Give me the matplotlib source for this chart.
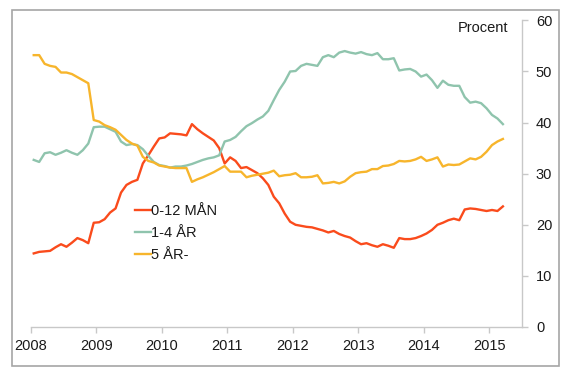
import numpy as np
import matplotlib
matplotlib.use("Agg")
import matplotlib.pyplot as plt
from matplotlib.patches import Rectangle

# Monthly shares, Jan 2008 - Mar 2015 (procent)
kort = [14.4, 14.7, 14.8, 14.9, 15.6, 16.2, 15.7, 16.5, 17.4, 17.0, 16.4, 20.4,
        20.5, 21.1, 22.4, 23.2, 26.3, 27.8, 28.4, 28.8, 32.0, 33.6, 35.3, 36.9,
        37.1, 37.9, 37.8, 37.7, 37.5, 39.7, 38.7, 37.9, 37.2, 36.5, 35.0, 32.0,
        33.2, 32.5, 31.1, 31.3, 30.7, 30.1, 29.1, 27.8, 25.5, 24.2, 22.2, 20.6,
        20.0, 19.8, 19.6, 19.5, 19.2, 18.9, 18.5, 18.8, 18.2, 17.8, 17.5, 16.8,
        16.2, 16.4, 16.0, 15.7, 16.2, 15.9, 15.5, 17.4, 17.2, 17.2, 17.4, 17.8,
        18.3, 19.0, 20.0, 20.4, 20.9, 21.2, 20.9, 23.0, 23.2, 23.1, 22.9, 22.7,
        22.9, 22.7, 23.6]
mellan = [32.7, 32.3, 34.0, 34.2, 33.7, 34.1, 34.6, 34.1, 33.7, 34.6, 35.9, 39.1,
          39.2, 39.2, 38.7, 38.2, 36.3, 35.6, 35.8, 35.6, 34.8, 33.5, 32.3, 31.7,
          31.5, 31.2, 31.4, 31.4, 31.6, 31.9, 32.3, 32.7, 33.0, 33.2, 33.6, 36.3,
          36.6, 37.2, 38.3, 39.3, 39.9, 40.6, 41.2, 42.3, 44.4, 46.4, 48.0, 50.0,
          50.1, 51.1, 51.5, 51.3, 51.1, 52.8, 53.2, 52.8, 53.7, 54.0, 53.7, 53.5,
          53.8, 53.4, 53.2, 53.6, 52.4, 52.4, 52.6, 50.2, 50.4, 50.5, 50.0, 49.0,
          49.4, 48.3, 46.8, 48.2, 47.4, 47.2, 47.2, 45.0, 43.9, 44.1, 43.8, 42.8,
          41.5, 40.8, 39.7]
lang = [53.2, 53.2, 51.5, 51.1, 50.9, 49.8, 49.8, 49.5, 48.9, 48.3, 47.7, 40.5,
        40.2, 39.5, 39.1, 38.6, 37.6, 36.6, 35.9, 35.5, 33.3, 32.5, 32.2, 31.6,
        31.4, 31.2, 31.1, 31.1, 31.1, 28.4, 28.9, 29.3, 29.8, 30.3, 30.9, 31.5,
        30.4, 30.4, 30.4, 29.3, 29.6, 29.8, 30.0, 30.2, 30.6, 29.5, 29.7, 29.8,
        30.1, 29.3, 29.3, 29.4, 29.7, 28.1, 28.2, 28.4, 28.1, 28.5, 29.4, 30.1,
        30.3, 30.4, 30.9, 30.9, 31.5, 31.6, 31.9, 32.5, 32.4, 32.5, 32.8, 33.3,
        32.5, 32.8, 33.2, 31.4, 31.8, 31.7, 31.8, 32.4, 33.0, 32.8, 33.3, 34.3,
        35.6, 36.3, 36.8]

labels = ["0-12 MÅN", "1-4 ÅR", "5 ÅR-"]
colors = ["#fa4b1c", "#8fc4ad", "#f7b52c"]
years = list(range(2008, 2016))
yticks = list(range(0, 70, 10))

plt.rcParams["font.family"] = ["Liberation Sans", "DejaVu Sans"]

W, H = 572, 381
fig = plt.figure(figsize=(W / 100, H / 100), dpi=100)
ax = fig.add_axes([31 / W, 1 - 327 / H, (522 - 31) / W, (327 - 20.4) / H])

# points sit mid-month
x = 2008 + (np.arange(len(kort)) + 0.5) / 12
for vals, lab, col in zip([kort, mellan, lang], labels, colors):
    ax.plot(x, vals, color=col, lw=1.7, label=lab, solid_joinstyle="round")

ax.set_xlim(2008, 2015.5)
ax.set_ylim(0, 60)
ax.set_xticks(years)
ax.set_yticks(yticks)

ax.yaxis.tick_right()
for side in ["left", "top"]:
    ax.spines[side].set_visible(False)
for side in ["right", "bottom"]:
    ax.spines[side].set_color("#c8c8c8")
    ax.spines[side].set_linewidth(1.0)
ax.tick_params(axis="both", colors="#c8c8c8", labelcolor="#1a1a1a",
               labelsize=10.5, length=4, width=1.0, direction="out")
ax.tick_params(axis="x", pad=5)
ax.tick_params(axis="y", pad=6)

ax.text((508 - 31) / (522 - 31), (327 - 28) / (327 - 20.4), "Procent",
        transform=ax.transAxes, ha="right", va="center", fontsize=10.5,
        color="#1a1a1a")

leg = ax.legend(loc="upper left", bbox_to_anchor=((135 - 31) / 491, (327 - 204) / 306.6),
                frameon=False, fontsize=10.5, handlelength=1.1, handletextpad=0.0,
                labelspacing=0.55, borderpad=0, borderaxespad=0)
for t in leg.get_texts():
    t.set_color("#1a1a1a")

fig.patches.append(Rectangle((12 / W, 1 - 366 / H), (559 - 12) / W, (366 - 9.5) / H,
                             transform=fig.transFigure, fill=False,
                             ec="#a6a6a6", lw=1.2))

fig.savefig("out.png", dpi=100)
